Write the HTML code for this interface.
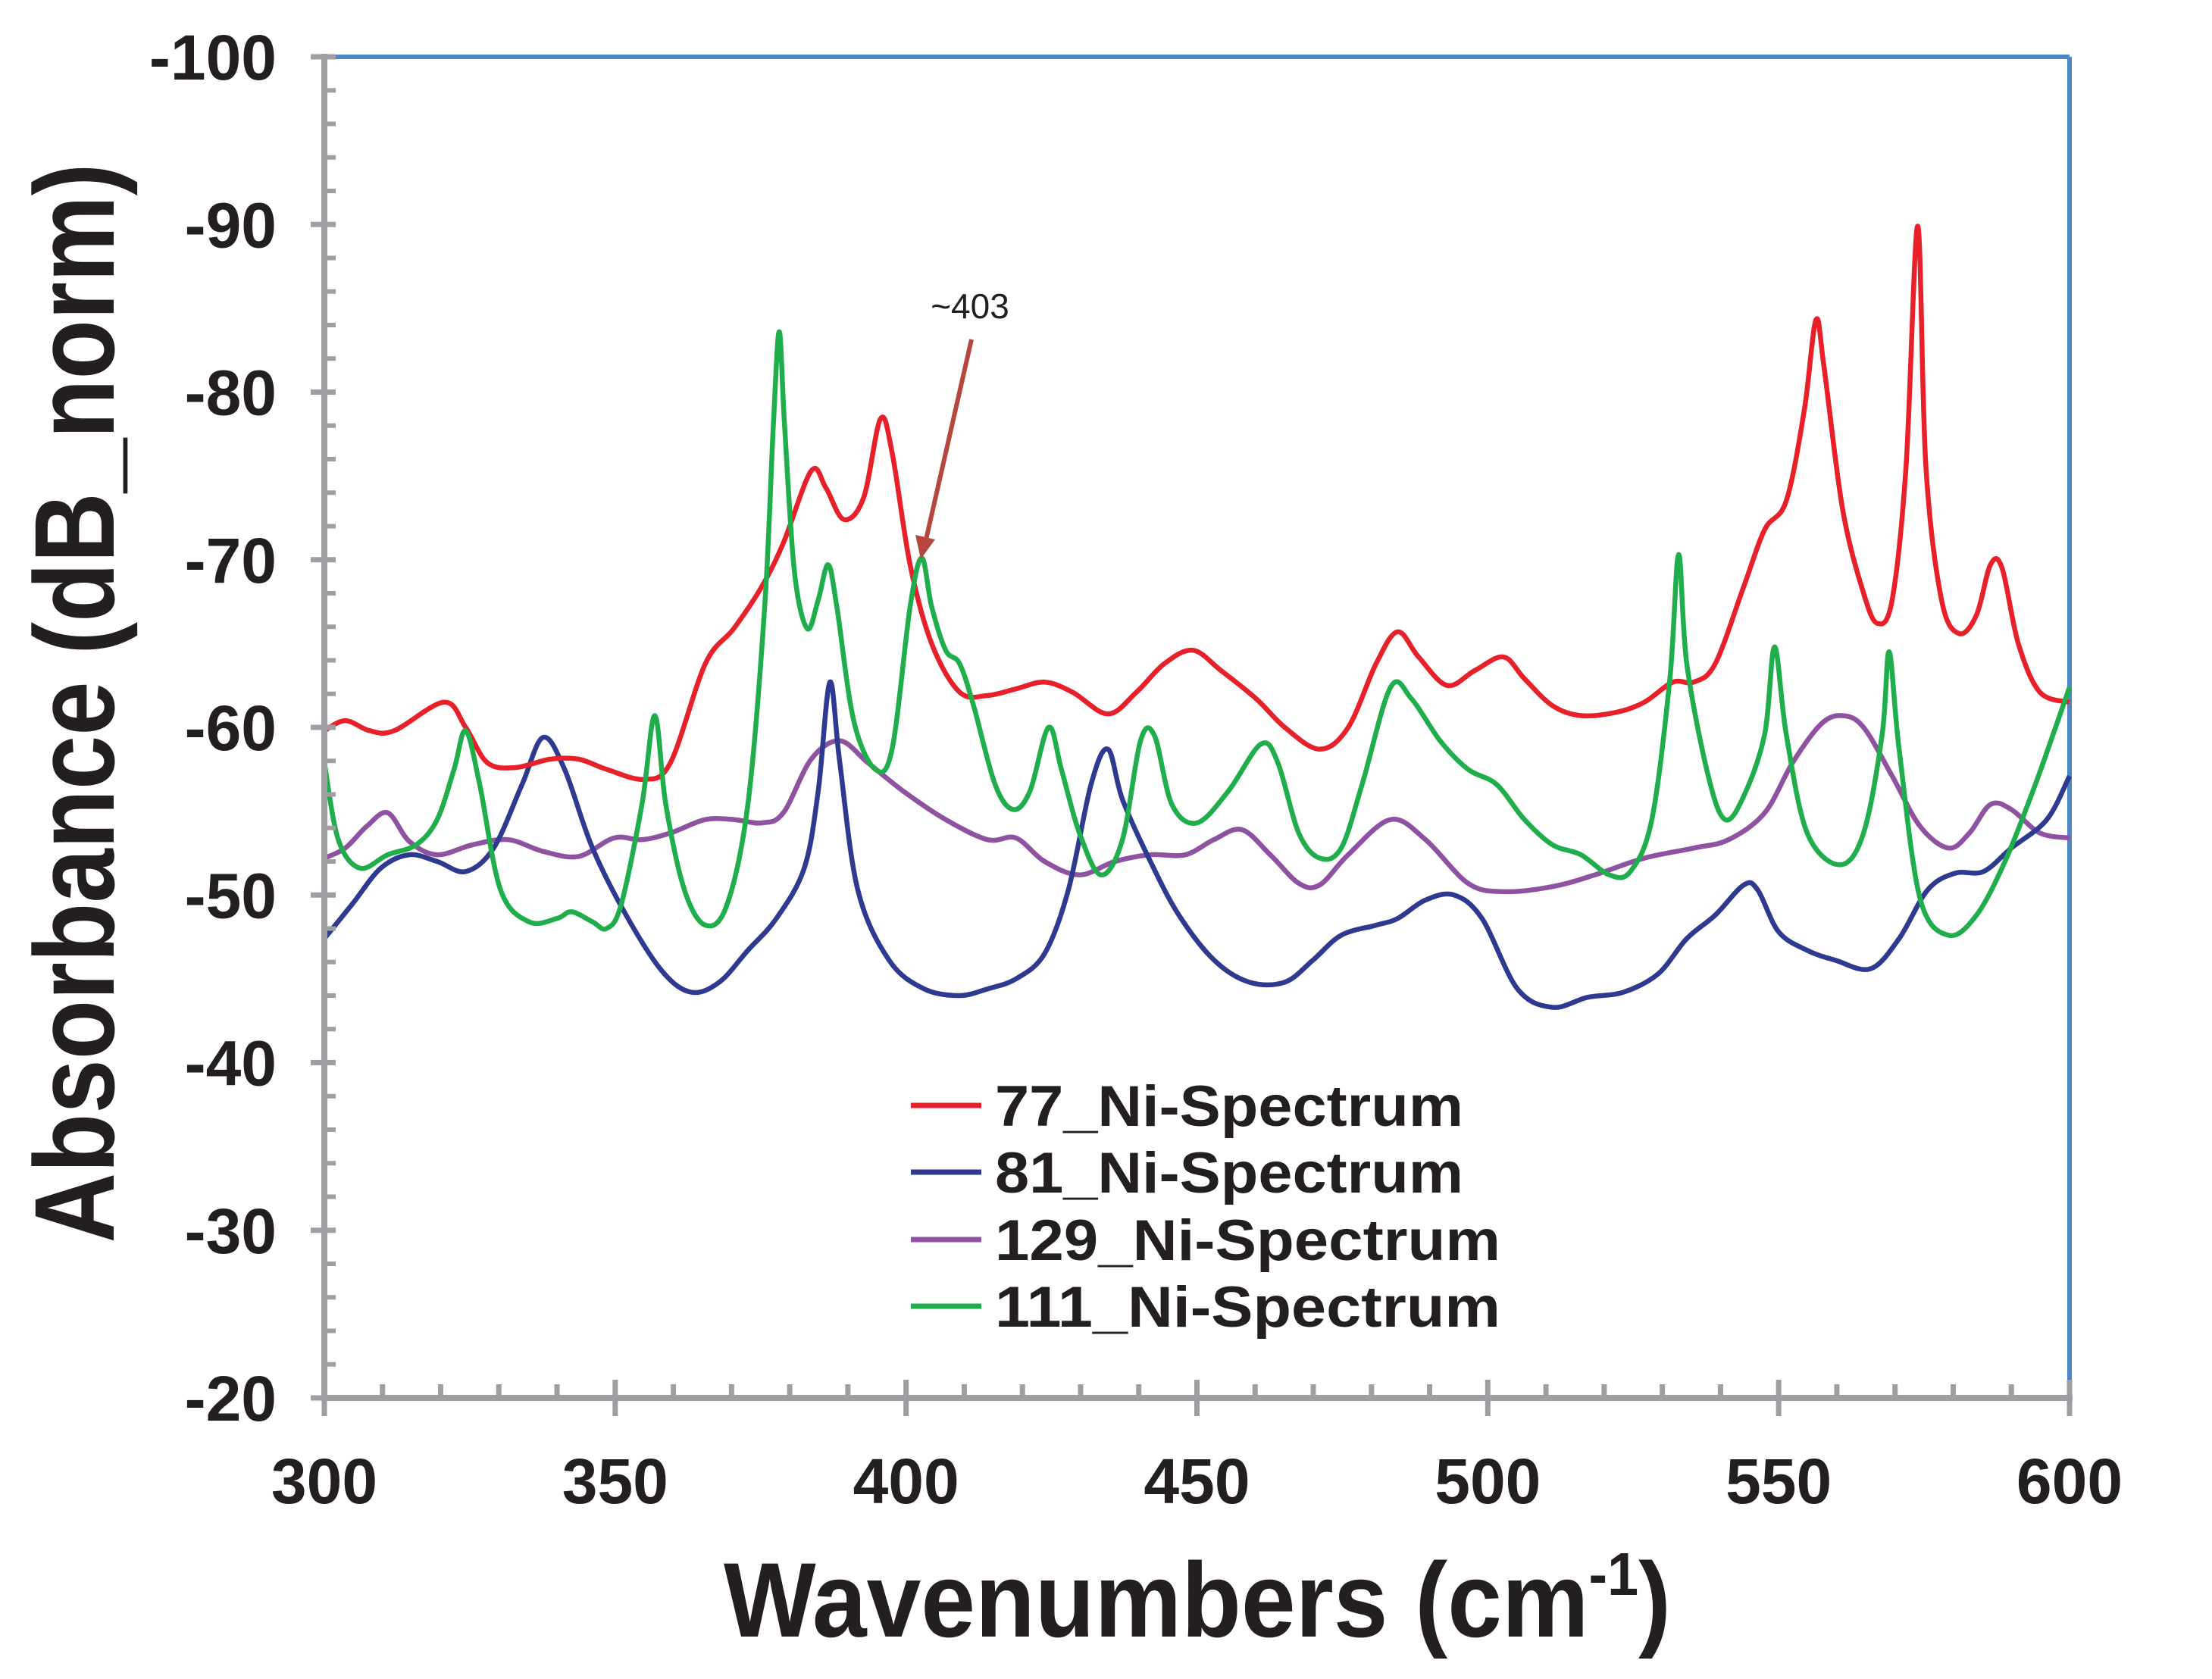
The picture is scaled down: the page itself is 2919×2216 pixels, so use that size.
<!DOCTYPE html>
<html><head><meta charset="utf-8"><style>
html,body{margin:0;padding:0;background:#fff;}
svg{display:block;}
text{font-family:"Liberation Sans",sans-serif;fill:#231f20;}
</style></head><body>
<svg id="chart" width="2919" height="2216" viewBox="0 0 2919 2216" xmlns="http://www.w3.org/2000/svg">
<g id="frame"></g>
<g id="series"></g>
<g id="axes"></g>
<text x="0" y="0" transform="translate(150,928) rotate(-90)" text-anchor="middle" font-size="150" font-weight="bold" textLength="1425" lengthAdjust="spacingAndGlyphs">Absorbance (dB_norm)</text>
<text x="1580" y="2160" text-anchor="middle" font-size="140" font-weight="bold" textLength="1250" lengthAdjust="spacingAndGlyphs">Wavenumbers (cm<tspan font-size="80" dy="-55">-1</tspan><tspan dy="55">)</tspan></text>
<text x="1280" y="420" text-anchor="middle" font-size="46">~403</text>
<line x1="1282" y1="448" x2="1222" y2="712" stroke="#b5473f" stroke-width="6"/>
<polygon points="1215,738 1208,706 1234,712" fill="#b5473f"/>
<g id="legend"></g>
</svg>
<script>
const categories = ["77_Ni-Spectrum","81_Ni-Spectrum","129_Ni-Spectrum","111_Ni-Spectrum"];
const yTicks = [-100,-90,-80,-70,-60,-50,-40,-30,-20];
const xTicks = [300,350,400,450,500,550,600];
const red_x = [300,303.6,307.8,312,320.6,324.3,328,332.8,338.8,343.7,348.5,355,359.5,365.5,370.4,375.2,378.9,383.7,386.2,389.3,392.7,395.6,397.6,400.7,404.4,409.2,414,418.9,423.8,428.6,434.7,439.6,444.4,449.3,454.1,460.2,465.1,471.1,476,480.8,484.5,488.1,493,497.8,502.7,506.3,511.1,516,522.1,526.9,531.8,535.4,539.1,544,547.6,551.3,554.4,556.4,557.8,561,564.6,567,569.5,571.9,573.9,575.3,578,581,584,586.4,588.4,591.2,594.9,600];
const red_y = [-59.8,-60.4,-59.8,-59.8,-61.5,-60,-57.9,-57.6,-58.1,-58.1,-57.5,-56.9,-57.9,-63.8,-65.9,-68.4,-71,-75.3,-74.3,-72.4,-73.7,-78.4,-76.4,-69.7,-65,-62.1,-61.9,-62.3,-62.7,-62.1,-60.8,-62.1,-63.8,-64.6,-63.4,-61.7,-60,-58.7,-60,-63.8,-65.7,-64.2,-62.5,-63.4,-64.2,-62.9,-61.3,-60.7,-60.9,-61.5,-62.7,-62.7,-63.8,-68.4,-71.8,-73.5,-78.9,-84.3,-81.5,-73,-68,-66.2,-67.6,-75.6,-89.9,-75.6,-67.6,-65.6,-66.7,-69.7,-69.5,-65,-62.1,-61.5];
const blue_x = [300,304.9,309.7,314.6,319.4,324.3,329.1,334,337.6,341.3,346.1,352.2,358.2,363.1,367.9,372.8,377.7,382.5,384.9,386.9,388.6,391.7,397.1,403.1,409.2,414,418.9,423.8,427.9,431.8,434.7,437.2,442,446.9,453,459,465.1,469.9,474.8,480.8,484.5,489.3,494.2,499,505.1,511.1,517.2,523.3,529.3,534.2,539.1,544,546.4,550,554.9,559.8,565.8,570.7,575.6,580.3,585.2,590,596.1,600];
const blue_y = [-47.4,-49.5,-51.6,-52.4,-52,-51.4,-52.8,-56.6,-59.4,-57.5,-52.8,-48.6,-45.4,-44.2,-44.8,-46.7,-48.6,-51.6,-56.2,-62.7,-57.9,-50.3,-46.1,-44.4,-44,-44.4,-45,-46.5,-50.3,-56.6,-58.7,-55.7,-52,-48.8,-46.1,-44.8,-44.8,-46.1,-47.6,-48.2,-48.6,-49.7,-50,-48.6,-44.4,-43.3,-43.9,-44.2,-45.3,-47.4,-48.8,-50.6,-50.3,-47.8,-46.7,-46.1,-45.6,-47.4,-50.3,-51.3,-51.4,-52.8,-54.5,-57.1];
const purple_x = [300,303.6,307.3,310.9,314.6,319.4,325.5,331.6,337.6,343.7,349.8,354.6,359.5,365.5,370.4,375.2,378.9,383.7,388.6,393.4,399.5,406.8,414,418.9,423.8,429.8,435.9,442,448,452.9,457.7,462.6,467.5,471.1,476,483.3,489.3,496.6,502.7,511.1,518.4,526.9,535.4,541.4,547.6,552.4,557.3,561,564.6,569.5,574.3,579.2,582.8,586.4,590,594.9,600];
const purple_y = [-52.2,-52.8,-54.1,-54.9,-53.2,-52.4,-53,-53.3,-52.6,-52.3,-53.4,-53.3,-53.7,-54.5,-54.5,-54.3,-54.9,-58.1,-59.2,-57.9,-56.2,-54.5,-53.3,-53.4,-52,-51.2,-52,-52.4,-52.4,-53.3,-53.9,-52.4,-50.7,-50.6,-52.4,-54.5,-53.3,-50.7,-50.2,-50.5,-51.2,-52.2,-52.8,-53.3,-54.9,-57.9,-60.2,-60.7,-60,-57.1,-54.1,-52.8,-53.7,-55.4,-55.1,-53.7,-53.4];
const green_x = [300,302.4,306.1,310.9,315.8,319.4,322.3,324.3,326.7,330.3,335.2,340,342.5,346.1,348.5,351,354.6,356.8,358.7,361.9,365.5,369.2,372.8,375.7,377.2,378.2,379.1,380.8,383,384.9,386.6,388.1,391,394.7,397.6,400.7,402.7,404.4,406.8,409.2,411.6,415.3,418.4,421.3,424.5,426.7,429.8,433.5,437.2,440.3,442.7,445.7,450,455.4,461,463.9,467.5,471.1,474.8,478.4,483.3,486.9,491.8,496.6,501.5,506.3,511.1,516,520.9,524.5,528.2,531.3,532.8,534.2,537.9,540.8,544,547.6,549.3,551.3,554.9,560.5,564.6,567.8,569,570.7,574.3,579.2,584,588.9,593.7,597.4,600];
const green_y = [-57.9,-53.3,-51.6,-52.4,-53,-54.5,-57.5,-59.8,-56.6,-50.3,-48.4,-48.6,-49,-48.4,-48,-49.4,-55.4,-60.7,-55.4,-50.3,-48.2,-49.4,-55.4,-67.2,-78.1,-83.6,-78.1,-69.3,-65.9,-67.6,-69.7,-67.2,-60.4,-57.5,-58.7,-67.2,-70.1,-67.2,-64.6,-63.8,-61.3,-56.6,-55.1,-56.2,-60,-57.5,-53.7,-51.2,-53.3,-59.2,-59.5,-55.4,-54.3,-56.2,-59,-57.9,-53.7,-52.2,-52.8,-56.6,-62.4,-61.7,-59.2,-57.5,-56.6,-54.5,-53,-52.4,-51.2,-51.4,-54.5,-62.9,-70.3,-63.8,-57.1,-54.5,-55.9,-59.6,-64.8,-59.6,-53.7,-51.8,-53.7,-59.6,-64.5,-58.7,-49.8,-47.6,-48.8,-52,-56.2,-59.8,-62.4];

const X0=428,X1=2731,Y0=75,Y1=1845;
const NS="http://www.w3.org/2000/svg";
function xs(v){return X0+(v-300)/(600-300)*(X1-X0);}
function ys(v){return Y0+(v-(-100))/(-20-(-100))*(Y1-Y0);}
function mk(tag,attrs,parent){const e=document.createElementNS(NS,tag);for(const k in attrs)e.setAttribute(k,attrs[k]);parent.appendChild(e);return e;}
const frame=document.getElementById('frame'),axes=document.getElementById('axes'),series=document.getElementById('series'),legend=document.getElementById('legend');
let t=mk('line',{x1:X0,y1:Y0,x2:X1,y2:Y0,stroke:'#4f86c6','stroke-width':6},frame);


t=mk('line',{x1:X1,y1:Y0,x2:X1,y2:Y1,stroke:'#4f86c6','stroke-width':6},frame);


function smooth(px,py){let d='M'+px[0].toFixed(1)+','+py[0].toFixed(1);for(let i=0;i<px.length-1;i++){const p0x=px[Math.max(0,i-1)],p0y=py[Math.max(0,i-1)],p3x=px[Math.min(px.length-1,i+2)],p3y=py[Math.min(px.length-1,i+2)];const c1x=px[i]+(px[i+1]-p0x)/6,c1y=py[i]+(py[i+1]-p0y)/6,c2x=px[i+1]-(p3x-px[i])/6,c2y=py[i+1]-(p3y-py[i])/6;d+=' C'+c1x.toFixed(1)+','+c1y.toFixed(1)+' '+c2x.toFixed(1)+','+c2y.toFixed(1)+' '+px[i+1].toFixed(1)+','+py[i+1].toFixed(1);}return d;}
const colors=['#e8202a','#2e3a8f','#8e52a1','#1fae4b'];
const sx=[red_x,blue_x,purple_x,green_x],sy=[red_y,blue_y,purple_y,green_y];
const order=[2,1,0,3];
order.forEach(i=>{const p=mk('path',{d:smooth(sx[i].map(xs),sy[i].map(ys)),fill:'none',stroke:colors[i],'stroke-width':6.5,'stroke-linejoin':'round'},series);

});
t=mk('line',{x1:X0,y1:Y0-4,x2:X0,y2:Y1+4,stroke:'#9d9fa2','stroke-width':8},axes);


t=mk('line',{x1:X0-4,y1:Y1,x2:X1+4,y2:Y1,stroke:'#9d9fa2','stroke-width':8},axes);


for(let v=-100;v<=-20;v+=2){const y=ys(v);const major=(v%10===0);const l=mk('line',{x1:major?X0-18:X0,y1:y,x2:X0+15,y2:y,stroke:'#9d9fa2','stroke-width':major?7:6},axes);

}
yTicks.forEach(v=>{const tx=mk('text',{x:365,y:ys(v)+30,'text-anchor':'end','font-size':84,'font-weight':'bold'},axes);tx.textContent=String(v);

});
for(let v=300;v<=600;v+=10){const x=xs(v);const major=(v%50===0);const l=mk('line',{x1:x,y1:major?Y1-24:Y1-18,x2:x,y2:major?Y1+24:Y1,stroke:'#9d9fa2','stroke-width':7},axes);

}
xTicks.forEach(v=>{const tx=mk('text',{x:xs(v),y:1984,'text-anchor':'middle','font-size':84,'font-weight':'bold'},axes);tx.textContent=String(v);

});
const legY=[1459,1547,1636,1724];
const legW=[618,618,667,667];
categories.forEach((c,i)=>{const g=mk('g',{},legend);


mk('line',{x1:1202,y1:legY[i],x2:1295,y2:legY[i],stroke:colors[i],'stroke-width':7},g);
const tx=mk('text',{x:1313,y:legY[i]+27,'font-size':76,'font-weight':'bold',textLength:legW[i],lengthAdjust:'spacingAndGlyphs'},g);tx.textContent=c;});
</script>
</body></html>
